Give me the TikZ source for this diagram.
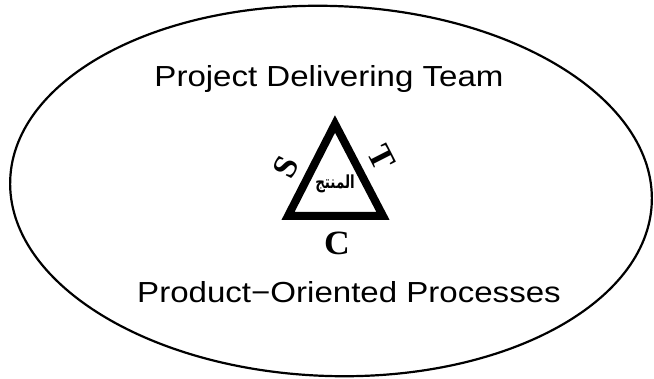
\documentclass[tikz,border=0pt]{standalone}
\usepackage{fontspec}
\setmainfont{Liberation Sans}
\newfontfamily\timesfont{Liberation Serif}
\newfontfamily\arabicfont[Script=Arabic]{DejaVu Sans}
\TeXXeTstate=1
\tikzset{
  bigtext/.style={font=\fontsize{29}{34}\selectfont, inner sep=0pt, xscale=1.14},
  sidelabel/.style={font=\timesfont\bfseries\fontsize{34}{36}\selectfont, inner sep=0pt}
}
\begin{document}
\begin{tikzpicture}[x=1pt, y=1pt]
        \useasboundingbox (0,0) rectangle (654,378);
        %ellisse esterna
        \draw[line width=2.2pt, rotate around={-2:(331,187)}] (331,187) ellipse (321 and 185);
        %testi
        \node[bigtext, anchor=base] (team) at (329,291) {Project Delivering Team};
        \node[bigtext, anchor=base] (proc) at (349,75) {Product\textminus Oriented Processes};
        %triangolo
        \draw[line width=8pt, miter limit=10] (335,254)--(288,162)--(383,162)--cycle;
        \node[font=\arabicfont\bfseries\fontsize{18}{20}\selectfont, inner sep=0pt, xscale=0.75] (prodotto) at (335,194) {\beginR المنتج\endR};
        %lati
        \node[sidelabel, rotate=63] (scope) at (286,211) {S};
        \node[sidelabel, rotate=-63] (tempo) at (382,220) {T};
        \node[sidelabel, xscale=1.05] (costo) at (337,135) {C};
\end{tikzpicture}
\end{document}
